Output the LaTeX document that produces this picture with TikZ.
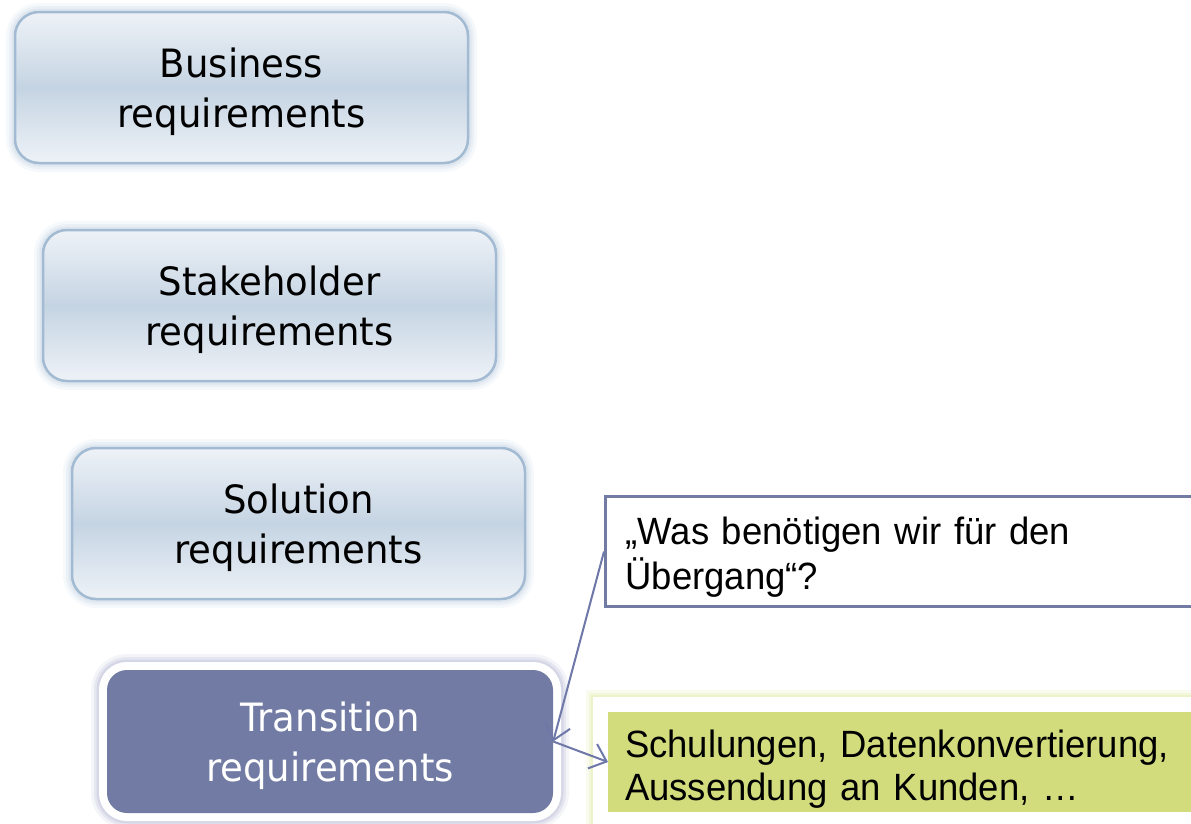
\documentclass[tikz,border=0pt]{standalone}
\usepackage{fontspec}
\setmainfont{DejaVu Sans}[FakeStretch=0.95]
\newfontfamily\narrowfont{Liberation Sans}[FakeStretch=0.96]
\usetikzlibrary{arrows.meta}
\definecolor{boxlight}{HTML}{EEF2F7}
\definecolor{boxmid}{HTML}{C5D4E3}
\definecolor{boxborder}{HTML}{A3BBD2}
\definecolor{boxglow}{HTML}{C9D7E6}
\definecolor{transfill}{HTML}{717BA3}
\definecolor{transglow}{HTML}{B9BDD8}
\definecolor{greenfill}{HTML}{D3DC7D}
\definecolor{greenglow}{HTML}{E3EDB0}
\definecolor{linkcol}{HTML}{6E78A8}
\tikzset{
  reqbox/.style={rounded corners=24pt, draw=boxborder, line width=2.5pt,
    top color=boxlight, bottom color=boxlight, middle color=boxmid,
    minimum width=453pt, minimum height=151pt, align=center, text=black,
    font=\fontsize{39}{50}\selectfont, text depth=0pt,
    preaction={draw=boxglow, line width=18pt, opacity=0.15},
    preaction={draw=boxglow, line width=12pt, opacity=0.25},
    preaction={draw=boxglow, line width=7pt, opacity=0.35}},
  transbox/.style={rounded corners=20pt, fill=transfill, text=white,
    minimum width=446pt, minimum height=143pt, align=center,
    font=\fontsize{39}{50}\selectfont, text depth=0pt,
    preaction={draw=transglow, line width=32pt, opacity=0.15},
    preaction={draw=transglow, line width=26pt, opacity=0.25},
    preaction={draw=transglow, line width=21pt, opacity=0.35},
    preaction={draw=white, line width=16pt}},
  calloutbox/.style={draw=transfill, line width=3pt, fill=white,
    text width=600pt, inner xsep=20pt, minimum height=110pt, align=left,
    text depth=41pt,
    font=\narrowfont\fontsize{38}{45}\selectfont},
  greenbox/.style={fill=greenfill, text width=600pt, inner xsep=17pt,
    minimum height=100pt, align=left, outer sep=0pt, text depth=37pt,
    font=\narrowfont\fontsize{38}{43}\selectfont,
    preaction={draw=greenglow, line width=44pt, opacity=0.2},
    preaction={draw=greenglow, line width=38pt, opacity=0.3},
    preaction={draw=greenglow, line width=34pt, opacity=0.4},
    preaction={draw=white, line width=30pt}},
  link/.style={draw=linkcol, line width=2pt,
    -{Straight Barb[length=15pt, width=26pt, line width=2pt]}}
}
\begin{document}
\begin{tikzpicture}[x=1pt,y=-1pt]
\useasboundingbox (0,0) rectangle (1191,823);
\fill[white] (0,0) rectangle (1191,823);
\clip (0,0) rectangle (1191,823);
\node[reqbox] (bus) at (241.5,87.5) {Business\\requirements};
\node[reqbox] (stk) at (269.5,305.5) {Stakeholder\\requirements};
\node[reqbox] (sol) at (298.5,523.5) {Solution\\requirements};
\node[transbox] (tra) at (330,741.5) {Transition\\requirements};
\node[calloutbox, anchor=north west] (q) at (604,495) {„Was benötigen wir für den\\Übergang“?};
\node[greenbox, anchor=north west] (g) at (608,712) {Schulungen, Datenkonvertierung,\\Aussendung an Kunden, …};
\draw[link] (q.west) -- (tra.east);
\draw[link] (tra.east) -- (g.west);
\end{tikzpicture}
\end{document}
